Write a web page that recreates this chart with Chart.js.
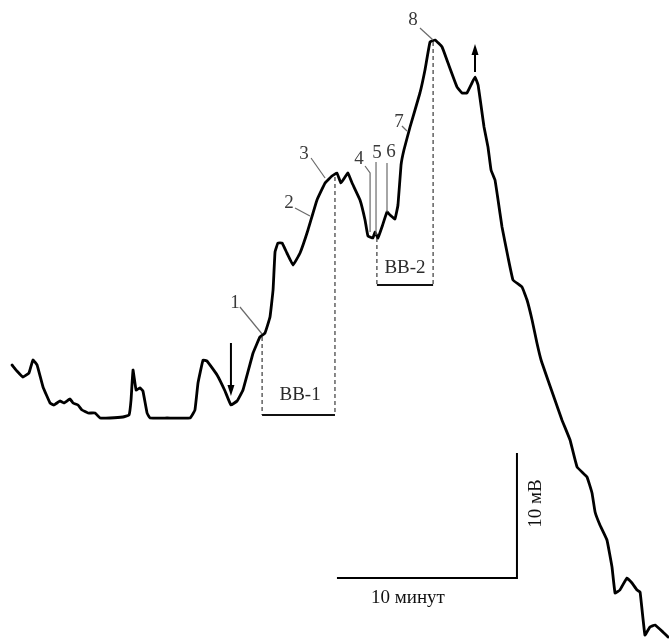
<!DOCTYPE html>
<html>
<head>
<meta charset="utf-8">
<script src="https://cdn.jsdelivr.net/npm/chart.js@4/dist/chart.umd.min.js"></script>
<style>
  html, body { margin: 0; padding: 0; background: #fff; }
  canvas { display: block; }
</style>
</head>
<body>
<canvas id="rec" width="669" height="641"></canvas>
<script>
// Recording: time (minutes) and potential (mV)
const timeMin = [
  0.67, 0.94, 1.28, 1.61, 1.83, 2.06, 2.39, 2.78, 3.00, 3.33,
  3.56, 3.89, 4.06, 4.33, 4.56, 4.89, 5.28, 5.56, 6.11, 6.83,
  7.17, 7.28, 7.39, 7.56, 7.78, 7.94, 8.17, 8.33, 9.28, 10.56,
  10.83, 11.00, 11.28, 11.50, 12.06, 12.50, 12.83, 13.17, 13.50, 14.06,
  14.44, 14.72, 15.00, 15.17, 15.28, 15.44, 15.67, 15.94, 16.28, 16.67,
  17.11, 17.61, 18.06, 18.44, 18.72, 18.94, 19.17, 19.33, 19.56, 20.00,
  20.28, 20.44, 20.72, 20.83, 21.00, 21.22, 21.50, 21.67, 21.94, 22.11,
  22.28, 22.44, 22.78, 23.33, 23.61, 23.89, 24.17, 24.56, 24.89, 25.39,
  25.67, 25.94, 26.22, 26.39, 26.56, 26.72, 26.89, 27.11, 27.28, 27.50,
  27.67, 27.89, 28.22, 28.50, 29.00, 29.28, 29.56, 29.83, 30.06, 30.44,
  30.83, 31.22, 31.67, 32.06, 32.61, 32.89, 33.06, 33.33, 33.72, 34.00,
  34.17, 34.44, 34.83, 35.11, 35.39, 35.56, 35.83, 36.11, 36.39, 36.83,
  37.11
];
const potentialMv = [
  22.08, 21.60, 21.12, 21.44, 22.48, 22.08, 20.32, 19.04, 18.88, 19.20,
  19.04, 19.36, 19.04, 18.88, 18.48, 18.24, 18.24, 17.84, 17.84, 17.92,
  18.08, 19.28, 21.68, 20.08, 20.24, 20.00, 18.24, 17.84, 17.84, 17.84,
  18.48, 20.64, 22.48, 22.40, 21.28, 20.00, 18.88, 19.20, 20.08, 23.04,
  24.32, 24.64, 25.92, 28.08, 31.12, 31.84, 31.84, 31.04, 30.08, 31.04,
  32.88, 35.28, 36.64, 37.20, 37.44, 36.64, 37.12, 37.44, 36.64, 35.28,
  33.68, 32.40, 32.24, 32.72, 32.24, 33.12, 34.32, 34.08, 33.76, 34.88,
  38.08, 39.28, 41.12, 43.84, 45.68, 47.92, 48.08, 47.52, 46.24, 44.32,
  43.84, 43.84, 44.64, 45.12, 44.48, 42.88, 41.12, 39.52, 37.68, 36.88,
  35.28, 33.12, 30.72, 28.88, 28.32, 27.28, 25.68, 23.84, 22.48, 20.88,
  19.28, 17.68, 16.08, 13.92, 13.12, 11.84, 10.32, 9.28, 8.08, 5.92,
  3.84, 4.08, 5.04, 4.64, 4.08, 3.92, 0.48, 1.12, 1.28, 0.72,
  0.32
];

// Marked points 1..8 on the trace
const markLabels = ['1', '2', '3', '4', '5', '6', '7', '8'];
// Application windows
const windowLabels = ['ВВ-1', 'ВВ-2'];
// Calibration bar
const calibTime = 10;   // minutes
const calibMv = 10;     // mV
const calibTimeText = '10 минут';
const calibMvText = '10 мВ';

const points = timeMin.map((t, i) => ({ x: t, y: potentialMv[i] }));

// Drawing layout for annotations, in data units (minutes, mV)
const marks = [
  { text: markLabels[0], at: [13.06, 27.0], line: [[13.33, 26.72], [14.56, 24.56]] },
  { text: markLabels[1], at: [16.06, 35.0], line: [[16.39, 34.64], [17.22, 34.0]] },
  { text: markLabels[2], at: [16.89, 38.96], line: [[17.28, 38.64], [18.06, 37.04]] },
  { text: markLabels[3], at: [19.94, 38.56], line: [[20.28, 38.0], [20.56, 37.44], [20.56, 32.72]] },
  { text: markLabels[4], at: [20.94, 39.04], line: [[20.89, 38.32], [20.89, 32.48]] },
  { text: markLabels[5], at: [21.72, 39.12], line: [[21.5, 38.24], [21.5, 34.32]] },
  { text: markLabels[6], at: [22.17, 41.52], line: [[22.33, 41.2], [22.61, 40.8]] },
  { text: markLabels[7], at: [22.94, 49.68], line: [[23.33, 49.04], [24.06, 48.08]] }
];
const windows = [
  { text: windowLabels[0], from: 14.56, to: 18.61, base: 18.08, topL: 24.32, topR: 37.12, labelAt: [16.67, 19.68] },
  { text: windowLabels[1], from: 20.94, to: 24.06, base: 28.48, topL: 32.24, topR: 47.92, labelAt: [22.5, 29.84] }
];
const arrows = [
  { t: 12.83, from: 23.84, to: 19.6 },
  { t: 26.39, from: 45.52, to: 47.76 }
];
const calibOrigin = [28.72, 5.04];

const annotate = {
  id: 'annotate',
  afterDatasetsDraw(chart) {
    const ctx = chart.ctx;
    const xs = chart.scales.x, ys = chart.scales.y;
    const X = v => xs.getPixelForValue(v);
    const Y = v => ys.getPixelForValue(v);
    ctx.save();
    ctx.font = '19px "Liberation Serif", "Times New Roman", serif';
    ctx.textAlign = 'center';
    ctx.textBaseline = 'middle';

    // numbered marks with leader lines
    marks.forEach(m => {
      ctx.fillStyle = '#3a3a3a';
      ctx.fillText(m.text, X(m.at[0]), Y(m.at[1]));
      ctx.strokeStyle = '#6a6a6a';
      ctx.lineWidth = 1.2;
      ctx.beginPath();
      m.line.forEach((p, i) => {
        const px = X(p[0]), py = Y(p[1]);
        if (i === 0) ctx.moveTo(px, py); else ctx.lineTo(px, py);
      });
      ctx.stroke();
    });

    // application windows: dashed verticals, solid base, label
    windows.forEach(w => {
      ctx.strokeStyle = '#111';
      ctx.lineWidth = 1;
      ctx.setLineDash([4, 3]);
      ctx.beginPath();
      ctx.moveTo(X(w.from), Y(w.topL));
      ctx.lineTo(X(w.from), Y(w.base));
      ctx.moveTo(X(w.to), Y(w.topR));
      ctx.lineTo(X(w.to), Y(w.base));
      ctx.stroke();
      ctx.setLineDash([]);
      ctx.lineWidth = 2;
      ctx.beginPath();
      ctx.moveTo(X(w.from), Y(w.base));
      ctx.lineTo(X(w.to), Y(w.base));
      ctx.stroke();
      ctx.fillStyle = '#2a2a2a';
      ctx.fillText(w.text, X(w.labelAt[0]), Y(w.labelAt[1]));
    });

    // arrows
    arrows.forEach(a => {
      const x = X(a.t), y0 = Y(a.from), y1 = Y(a.to);
      const dir = y1 > y0 ? 1 : -1;
      ctx.strokeStyle = '#000';
      ctx.fillStyle = '#000';
      ctx.lineWidth = 2;
      ctx.beginPath();
      ctx.moveTo(x, y0);
      ctx.lineTo(x, y1 - dir * 8);
      ctx.stroke();
      ctx.beginPath();
      ctx.moveTo(x, y1);
      ctx.lineTo(x - 3.5, y1 - dir * 11);
      ctx.lineTo(x + 3.5, y1 - dir * 11);
      ctx.closePath();
      ctx.fill();
    });

    // calibration bar
    const cx = X(calibOrigin[0]), cy = Y(calibOrigin[1]);
    const lx = X(calibOrigin[0] - calibTime), ty = Y(calibOrigin[1] + calibMv);
    ctx.strokeStyle = '#000';
    ctx.lineWidth = 2;
    ctx.beginPath();
    ctx.moveTo(lx, cy);
    ctx.lineTo(cx, cy);
    ctx.lineTo(cx, ty);
    ctx.stroke();
    ctx.fillStyle = '#111';
    ctx.fillText(calibTimeText, (lx + cx) / 2 - 19, cy + 20);
    ctx.save();
    ctx.translate(cx + 19, (cy + ty) / 2 - 12);
    ctx.rotate(-Math.PI / 2);
    ctx.fillText(calibMvText, 0, 0);
    ctx.restore();

    ctx.restore();
  }
};

new Chart(document.getElementById('rec'), {
  type: 'line',
  data: {
    datasets: [{
      data: points,
      borderColor: '#000',
      borderWidth: 2.8,
      pointRadius: 0,
      tension: 0.08,
      fill: false,
      borderJoinStyle: 'round',
      borderCapStyle: 'round'
    }]
  },
  options: {
    responsive: false,
    animation: false,
    devicePixelRatio: 1,
    layout: { padding: 0 },
    plugins: { legend: { display: false }, tooltip: { enabled: false } },
    scales: {
      x: { type: 'linear', display: false, min: 0, max: 669 / 18 },
      y: { type: 'linear', display: false, min: 0, max: 641 / 12.5 }
    }
  },
  plugins: [annotate]
});
</script>
</body>
</html>
